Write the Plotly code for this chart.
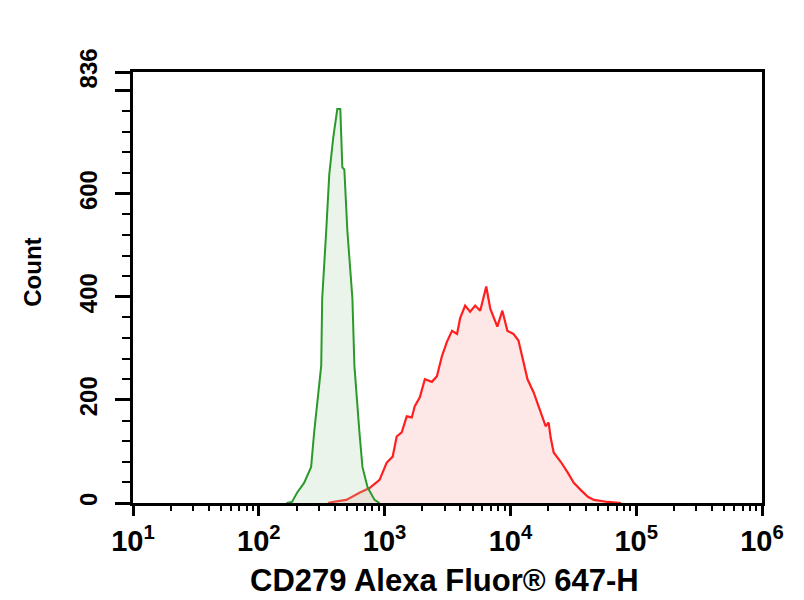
import plotly.graph_objects as go

# ---- data (log10 of fluorescence intensity, counts) ----
green_log_x = [2.22, 2.264, 2.304, 2.36, 2.416, 2.44, 2.496, 2.504, 2.536, 2.56, 2.592, 2.624,
               2.648, 2.664, 2.68, 2.704, 2.744, 2.76, 2.8, 2.824, 2.864, 2.92, 2.96]
green_count = [0, 2, 20, 39, 70, 137, 266, 397, 528, 637, 709, 764,
               764, 651, 647, 528, 397, 266, 137, 70, 31, 6, 0]

red_log_x = [2.55, 2.584, 2.696, 2.8, 2.88, 2.96, 3.016, 3.064, 3.096, 3.136, 3.176, 3.216,
             3.24, 3.28, 3.32, 3.376, 3.416, 3.456, 3.496, 3.536, 3.576, 3.6, 3.64, 3.68,
             3.72, 3.76, 3.808, 3.84, 3.896, 3.936, 3.976, 4.024, 4.064, 4.096, 4.136,
             4.184, 4.24, 4.28, 4.304, 4.32, 4.344, 4.4, 4.456, 4.504, 4.56, 4.616, 4.664,
             4.776, 4.88]
red_count = [0, 2, 6, 20, 29, 45, 78, 90, 129, 137, 168, 166,
             188, 205, 240, 235, 246, 285, 313, 334, 328, 358, 383, 371,
             383, 373, 420, 377, 342, 373, 334, 328, 315, 283, 240,
             215, 178, 149, 156, 127, 98, 80, 59, 39, 25, 12, 6,
             2, 0]

x_tick_vals = [10, 100, 1000, 10000, 100000, 1000000]
x_tick_text = ["10<sup>1</sup>", "10<sup>2</sup>", "10<sup>3</sup>",
               "10<sup>4</sup>", "10<sup>5</sup>", "10<sup>6</sup>"]
y_tick_vals = [0, 200, 400, 600, 800, 836]
y_tick_text = ["0", "200", "400", "600", " ", "836"]

x_title = "CD279 Alexa Fluor® 647-H"
y_title = "Count"

fig = go.Figure()
fig.add_trace(go.Scatter(
    x=[10 ** v for v in red_log_x], y=red_count, mode="lines",
    line=dict(color="#ff1f1f", width=2.2),
    fill="tozeroy", fillcolor="rgba(250,160,160,0.25)", showlegend=False))
fig.add_trace(go.Scatter(
    x=[10 ** v for v in green_log_x], y=green_count, mode="lines",
    line=dict(color="#2b9a2b", width=2),
    fill="tozeroy", fillcolor="rgba(170,210,170,0.25)", showlegend=False))

minor_x = []
for d in range(1, 6):
    for m in range(2, 10):
        minor_x.append(m * 10 ** d)

label_font = "Liberation Sans, Arial, sans-serif"

fig.update_layout(
    width=804, height=600,
    margin=dict(l=133, r=42, t=72, b=97),
    paper_bgcolor="white", plot_bgcolor="white",
    xaxis=dict(
        type="log", range=[1, 6],
        tickvals=x_tick_vals, ticktext=x_tick_text,
        ticks="outside", ticklen=10, tickwidth=3, tickcolor="black",
        minor=dict(tickvals=minor_x, ticks="outside", ticklen=5, tickwidth=2, tickcolor="black"),
        showline=True, linewidth=3, linecolor="black", mirror=True,
        showgrid=False, zeroline=False,
        tickfont=dict(family=label_font, size=29, color="black", weight="bold"),
        ticklabelstandoff=0,
    ),
    yaxis=dict(
        range=[0, 836],
        tickvals=y_tick_vals, ticktext=y_tick_text,
        ticks="outside", ticklen=15, tickwidth=3, tickcolor="black",
        minor=dict(dtick=40, tick0=0, ticks="outside", ticklen=8, tickwidth=2, tickcolor="black"),
        showline=True, linewidth=3, linecolor="black", mirror=True,
        showgrid=False, zeroline=False,
        tickangle=-90,
        tickfont=dict(family=label_font, size=24, color="black", weight="bold"),
        ticklabelstandoff=8,
    ),
    annotations=[
        dict(text=x_title, xref="paper", yref="paper", x=0.496, y=-0.179,
             xanchor="center", yanchor="middle", showarrow=False,
             font=dict(family=label_font, size=31, color="black", weight="bold")),
        dict(text=y_title, xref="paper", yref="paper", x=-0.16, y=0.535,
             xanchor="center", yanchor="middle", showarrow=False, textangle=-90,
             font=dict(family=label_font, size=24, color="black", weight="bold")),
    ],
)

fig.write_html("out.html")
